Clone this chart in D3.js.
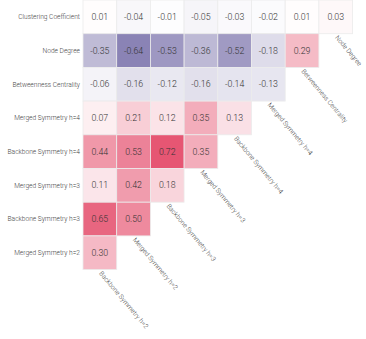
<!DOCTYPE html>
<html>
<head>
<meta charset="utf-8">
<script src="https://cdn.jsdelivr.net/npm/d3@7"></script>
<style>
  body { margin: 0; background: #fff; }
  text { font-family: Roboto, "Liberation Sans", Arial, sans-serif; font-weight: 300; }
</style>
</head>
<body>
<div class="svg"></div>
<script>
// row labels, top to bottom
var rowNames = [
    "Clustering Coefficient",
    "Node Degree",
    "Betweenness Centrality",
    "Merged Symmetry h=4",
    "Backbone Symmetry h=4",
    "Merged Symmetry h=3",
    "Backbone Symmetry h=3",
    "Merged Symmetry h=2"
];
// column labels, left to right
var colNames = [
    "Backbone Symmetry h=2",
    "Merged Symmetry h=2",
    "Backbone Symmetry h=3",
    "Merged Symmetry h=3",
    "Backbone Symmetry h=4",
    "Merged Symmetry h=4",
    "Betweenness Centrality",
    "Node Degree"
];
// correlations, one array per row (triangle)
var corrClustering = [0.01, -0.04, -0.01, -0.05, -0.03, -0.02, 0.01, 0.03];
var corrDegree = [-0.35, -0.64, -0.53, -0.36, -0.52, -0.18, 0.29];
var corrBetweenness = [-0.06, -0.16, -0.12, -0.16, -0.14, -0.13];
var corrMerged4 = [0.07, 0.21, 0.12, 0.35, 0.13];
var corrBackbone4 = [0.44, 0.53, 0.72, 0.35];
var corrMerged3 = [0.11, 0.42, 0.18];
var corrBackbone3 = [0.65, 0.50];
var corrMerged2 = [0.30];

var rows = [corrClustering, corrDegree, corrBetweenness, corrMerged4,
    corrBackbone4, corrMerged3, corrBackbone3, corrMerged2];

var width = 366, height = 339;
var marginLeft = 83, marginTop = 0, cell = 33.7;

var cells = [];
rows.forEach(function (vals, i) {
    vals.forEach(function (v, j) {
        cells.push({row: rowNames[i], col: colNames[j], value: v});
    });
});

var x = d3.scaleBand()
    .domain(colNames)
    .range([marginLeft, marginLeft + cell * colNames.length]);
var y = d3.scaleBand()
    .domain(rowNames)
    .range([marginTop, marginTop + cell * rowNames.length]);

var color = d3.scaleLinear()
    .domain([-1, 0, 1])
    .range(["darkslateblue", "white", "crimson"]);

var svg = d3.select("div.svg")
    .append("svg")
    .attr("width", width)
    .attr("height", height);

svg.selectAll("rect.cell")
    .data(cells)
    .enter().append("rect")
    .attr("class", "cell")
    .attr("x", function (d) { return x(d.col); })
    .attr("y", function (d) { return y(d.row); })
    .attr("width", x.bandwidth())
    .attr("height", y.bandwidth())
    .style("fill", function (d) { return color(d.value); })
    .style("stroke", "#ececec")
    .style("stroke-width", 0.8);

svg.selectAll("text.val")
    .data(cells)
    .enter().append("text")
    .attr("class", "val")
    .attr("x", function (d) { return x(d.col) + x.bandwidth() / 2; })
    .attr("y", function (d) { return y(d.row) + y.bandwidth() / 2; })
    .attr("dy", "0.35em")
    .attr("text-anchor", "middle")
    .style("font-size", "8.8px")
    .style("fill", "#333")
    .text(function (d) { return d.value.toFixed(2); });

// row labels on the left
svg.selectAll("text.rowlab")
    .data(rowNames)
    .enter().append("text")
    .attr("class", "rowlab")
    .attr("x", marginLeft - 3)
    .attr("y", function (d) { return y(d) + y.bandwidth() / 2; })
    .attr("dy", "0.35em")
    .attr("text-anchor", "end")
    .style("font-size", "6.6px")
    .style("fill", "#444")
    .text(function (d) { return d; });

// column labels, slanted under the last cell of each column
svg.selectAll("text.collab")
    .data(colNames)
    .enter().append("text")
    .attr("class", "collab")
    .attr("transform", function (d, j) {
        var n = rowNames.length - j; // cells in this column
        var cx = x(d) + x.bandwidth() / 2 - 1;
        var cy = y(rowNames[n - 1]) + y.bandwidth() + 4;
        return "translate(" + cx + "," + cy + ") rotate(50)";
    })
    .attr("text-anchor", "start")
    .style("font-size", "6.6px")
    .style("fill", "#444")
    .text(function (d) { return d; });
</script>
</body>
</html>
